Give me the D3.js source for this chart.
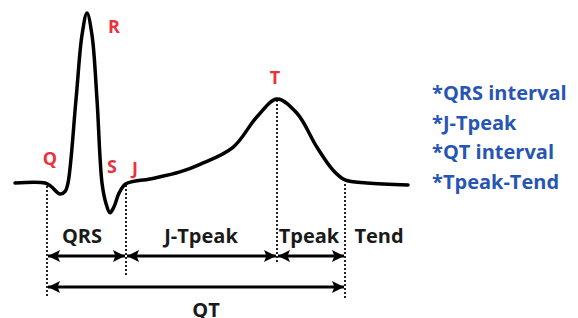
<!DOCTYPE html>
<html>
<head>
<meta charset="utf-8">
<script src="https://cdn.jsdelivr.net/npm/d3@7"></script>
<style>
  body { margin: 0; background: #fff; }
  text { font-family: "Open Sans", sans-serif; font-weight: bold; }
</style>
</head>
<body>
<div id="chart"></div>
<script>
// ECG trace: time (ms, from left edge) and amplitude (relative to R peak = 1)
var traceTime = [0, 30, 36, 45, 50, 53, 61, 67, 72, 77, 82, 87, 91, 95, 99, 104, 111, 135, 165, 185, 218, 242, 262, 282, 302, 318, 330, 352, 393];
var traceAmp  = [0, 0, -0.02, -0.065, -0.05, 0, 0.49, 0.87, 1.0, 0.87, 0.49, 0, -0.12, -0.175, -0.14, -0.06, -0.005, 0.024, 0.065, 0.11, 0.21, 0.39, 0.494, 0.41, 0.21, 0.076, 0.018, 0, -0.012];

// wave labels
var waveNames = ["Q", "R", "S", "J", "T"];
var waveTime  = [35, 99, 97, 120, 260];
var waveAmp   = [0.105, 0.88, 0.06, 0.05, 0.58];

// interval markers (Q onset, J point, T peak, T end)
var markNames = ["Q", "J", "Tpeak", "Tend"];
var markTime  = [32, 111, 262, 330];

// segments above, total below
var segNames = ["QRS", "J-Tpeak", "Tpeak"];
var segFrom  = [32, 111, 262];
var segTo    = [111, 262, 330];

var legendItems = ["*QRS interval", "*J-Tpeak", "*QT interval", "*Tpeak-Tend"];

var width = 578, height = 318;
var x = d3.scaleLinear().domain([0, 393]).range([15, 408]);
var y = d3.scaleLinear().domain([0, 1]).range([183, 13]);

var svg = d3.select("#chart").append("svg")
    .attr("width", width)
    .attr("height", height);

var defs = svg.append("defs");
["start", "end"].forEach(function(k) {
    defs.append("marker")
        .attr("id", "arrow-" + k)
        .attr("viewBox", "0 0 10 10")
        .attr("refX", k == "end" ? 10 : 0)
        .attr("refY", 5)
        .attr("markerWidth", 13)
        .attr("markerHeight", 12)
        .attr("markerUnits", "userSpaceOnUse")
        .attr("orient", "auto")
      .append("path")
        .attr("d", k == "end" ? "M0,0L10,5L0,10L2,5Z" : "M10,0L0,5L10,10L8,5Z")
        .attr("fill", "#000");
});

// dotted guide lines
var guideTop = [y(0) + 3, y(0) + 2, y(0.494) + 1, y(0) + 1];
var guideBottom = [296, 276, 262, 298];
svg.append("g").selectAll("line")
    .data(markTime)
    .enter().append("line")
    .attr("x1", function(d) { return x(d); })
    .attr("x2", function(d) { return x(d); })
    .attr("y1", function(d, i) { return guideTop[i]; })
    .attr("y2", function(d, i) { return guideBottom[i]; })
    .style("stroke", "#222")
    .style("stroke-width", 2)
    .style("stroke-dasharray", "2,2");

// the trace
var pts = traceTime.map(function(t, i) { return [t, traceAmp[i]]; });
var line = d3.line()
    .x(function(d) { return x(d[0]); })
    .y(function(d) { return y(d[1]); })
    .curve(d3.curveCatmullRom.alpha(0.5));

svg.append("path")
    .datum(pts)
    .attr("d", line)
    .style("fill", "none")
    .style("stroke", "#000")
    .style("stroke-width", 3.5)
    .style("stroke-linejoin", "round")
    .style("stroke-linecap", "round");

// wave labels
svg.append("g").selectAll("text")
    .data(waveNames)
    .enter().append("text")
    .attr("x", function(d, i) { return x(waveTime[i]); })
    .attr("y", function(d, i) { return y(waveAmp[i]); })
    .attr("text-anchor", "middle")
    .style("font-size", "18px")
    .style("fill", "#e8323c")
    .text(function(d) { return d; });

// segment arrows
var rowY = 256;
svg.append("g").selectAll("line")
    .data(segNames)
    .enter().append("line")
    .attr("x1", function(d, i) { return x(segFrom[i]) + 1; })
    .attr("x2", function(d, i) { return x(segTo[i]) - 1; })
    .attr("y1", rowY)
    .attr("y2", rowY)
    .style("stroke", "#000")
    .style("stroke-width", 3)
    .attr("marker-start", "url(#arrow-start)")
    .attr("marker-end", "url(#arrow-end)");

var segLabelX = [82, 201, 309, 379];
svg.append("g").selectAll("text")
    .data(segNames.concat(["Tend"]))
    .enter().append("text")
    .attr("x", function(d, i) { return segLabelX[i]; })
    .attr("y", 243)
    .attr("text-anchor", "middle")
    .style("font-size", "20px")
    .style("fill", "#1a1a1a")
    .text(function(d) { return d; });

// QT arrow
svg.append("line")
    .attr("x1", x(markTime[0]) + 1)
    .attr("x2", x(markTime[3]) - 1)
    .attr("y1", 287)
    .attr("y2", 287)
    .style("stroke", "#000")
    .style("stroke-width", 3)
    .attr("marker-start", "url(#arrow-start)")
    .attr("marker-end", "url(#arrow-end)");

svg.append("text")
    .attr("x", 206)
    .attr("y", 317)
    .attr("text-anchor", "middle")
    .style("font-size", "20px")
    .style("fill", "#1a1a1a")
    .text("QT");

// legend
svg.append("g").selectAll("text")
    .data(legendItems)
    .enter().append("text")
    .attr("x", 432)
    .attr("y", function(d, i) { return 100 + i * 29.7; })
    .style("font-size", "20px")
    .style("fill", "#2755b3")
    .text(function(d) { return d; });
</script>
</body>
</html>
